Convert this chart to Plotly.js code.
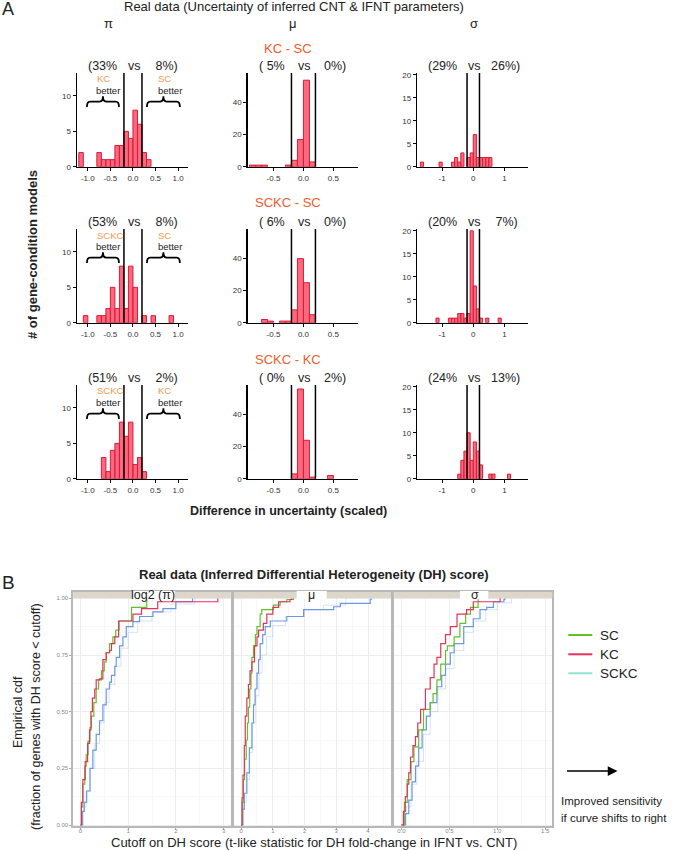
<!DOCTYPE html>
<html><head><meta charset="utf-8">
<script src="https://cdn.plot.ly/plotly-3.0.1.min.js"></script>
<style>html,body{margin:0;padding:0;background:#fff}#chart{width:678px;height:850px}</style>
</head><body><div id="chart"></div>
<script>
// ---------- Panel A data (bin centres, width 0.1, and counts) ----------
const params = ['π', 'μ', 'σ'];
const comparisons = ['KC - SC', 'SCKC - SC', 'SCKC - KC'];
const betterLeft = ['KC', 'SCKC', 'SCKC'];
const betterRight = ['SC', 'SC', 'KC'];
const pctLeft = [['33%', ' 5%', '29%'], ['53%', ' 6%', '20%'], ['51%', ' 0%', '24%']];
const pctRight = [[' 8%', '0%', '26%'], [' 8%', '0%', ' 7%'], [' 2%', '2%', '13%']];
const thresholds = [-0.2, 0.2];

const piKcSc_x = [-1.15, -0.75, -0.65, -0.55, -0.45, -0.35, -0.25, -0.15, -0.05, 0.05, 0.15, 0.25, 0.35];
const piKcSc_n = [2, 2, 1, 1, 1, 3, 3, 5, 4, 8, 6, 2, 1];
const muKcSc_x = [-0.85, -0.75, -0.65, -0.25, -0.15, -0.05, 0.05, 0.15];
const muKcSc_n = [1, 1, 1, 1, 4, 17, 54, 3];
const sgKcSc_x = [-1.65, -1.05, -0.65, -0.55, -0.45, -0.35, -0.15, -0.05, 0.05, 0.15, 0.25, 0.35, 0.45, 0.55];
const sgKcSc_n = [1, 1, 1, 2, 1, 3, 2, 3, 7, 2, 2, 2, 2, 2];

const piSckcSc_x = [-1.05, -0.75, -0.65, -0.55, -0.45, -0.35, -0.25, -0.15, -0.05, 0.05, 0.25, 0.45, 0.85];
const piSckcSc_n = [1, 1, 1, 2, 5, 2, 8, 2, 8, 5, 1, 1, 1];
const muSckcSc_x = [-0.65, -0.55, -0.35, -0.25, -0.15, -0.05, 0.05, 0.15];
const muSckcSc_n = [2, 1, 1, 1, 8, 40, 25, 5];
const sgSckcSc_x = [-1.15, -0.75, -0.65, -0.55, -0.45, -0.35, -0.25, -0.15, -0.05, 0.05, 0.15, 0.25, 0.45, 0.85];
const sgSckcSc_n = [1, 1, 1, 1, 2, 2, 1, 2, 20, 8, 3, 1, 1, 1];

const piSckcKc_x = [-0.65, -0.55, -0.45, -0.35, -0.25, -0.15, -0.05, 0.05, 0.15, 0.25];
const piSckcKc_n = [3, 1, 4, 5, 8, 6, 8, 2, 3, 1];
const muSckcKc_x = [-0.15, -0.05, 0.05, 0.15, 0.45];
const muSckcKc_n = [3, 56, 24, 1, 2];
const sgSckcKc_x = [-0.45, -0.35, -0.25, -0.15, -0.05, 0.05, 0.15, 0.25, 0.55, 0.65, 1.15];
const sgSckcKc_n = [1, 4, 6, 10, 4, 8, 6, 3, 1, 1, 1];

const piTicks = [-1, -0.5, 0, 0.5, 1], piTickText = ['-1.0', '-0.5', '0.0', '0.5', '1.0'];
const muTicks = [-0.5, 0, 0.5], muTickText = ['-0.5', '0.0', '0.5'];
const sgTicks = [-1, 0, 1], sgTickText = ['-1', '0', '1'];
const piYTicks = [0, 5, 10], muYTicks = [0, 20, 40], sgYTicks = [0, 5, 10, 15, 20];

// ---------- Panel B data (ECDF step vertices) ----------
const facetLabels = ['log2 (π)', 'μ', 'σ'];
const seriesNames = ['SC', 'KC', 'SCKC'];

const piSC_x = [0, 0.02, 0.05, 0.09, 0.12, 0.16, 0.2, 0.23, 0.28, 0.33, 0.38, 0.44, 0.5, 0.54, 0.61, 0.68, 0.74, 0.81, 1.07, 1.39];
const piSC_y = [0, 0.08, 0.18, 0.26, 0.31, 0.37, 0.43, 0.48, 0.54, 0.60, 0.64, 0.68, 0.72, 0.76, 0.80, 0.83, 0.86, 0.90, 0.96, 1.0];
const piKC_x = [0, 0.02, 0.05, 0.1, 0.15, 0.19, 0.22, 0.25, 0.3, 0.33, 0.4, 0.47, 0.54, 0.61, 0.65, 0.72, 0.8, 1.1, 1.28, 1.62, 2.88];
const piKC_y = [0, 0.1, 0.2, 0.28, 0.36, 0.42, 0.5, 0.56, 0.6, 0.64, 0.645, 0.73, 0.76, 0.77, 0.80, 0.83, 0.90, 0.93, 0.955, 0.985, 1.0];
const piSCKC_x = [0, 0.04, 0.08, 0.13, 0.2, 0.26, 0.33, 0.4, 0.47, 0.54, 0.61, 0.65, 0.72, 0.75, 0.82, 0.89, 0.96, 1.1, 1.24, 1.52, 1.73, 2.0, 2.35];
const piSCKC_y = [0, 0.06, 0.1, 0.15, 0.25, 0.33, 0.4, 0.46, 0.53, 0.6, 0.63, 0.66, 0.7, 0.74, 0.79, 0.83, 0.875, 0.897, 0.92, 0.94, 0.955, 0.985, 1.0];
const piRep_x = [0, 0.06, 0.12, 0.2, 0.3, 0.4, 0.5, 0.6, 0.72, 0.85, 1.0, 1.2, 1.5, 1.9, 2.4];
const piRep_y = [0, 0.08, 0.15, 0.25, 0.36, 0.45, 0.54, 0.62, 0.7, 0.78, 0.85, 0.9, 0.94, 0.975, 1.0];

const muSC_x = [0, 0.03, 0.07, 0.11, 0.16, 0.2, 0.23, 0.27, 0.31, 0.34, 0.39, 0.45, 0.5, 0.6, 0.65, 1.02, 1.23, 1.44, 1.65];
const muSC_y = [0, 0.1, 0.2, 0.29, 0.375, 0.45, 0.52, 0.6, 0.67, 0.74, 0.79, 0.84, 0.875, 0.93, 0.95, 0.97, 0.985, 0.995, 1.0];
const muKC_x = [0, 0.03, 0.06, 0.1, 0.13, 0.18, 0.23, 0.28, 0.34, 0.42, 0.5, 0.55, 0.7, 0.81, 1.0, 1.18, 1.54, 1.6];
const muKC_y = [0, 0.12, 0.22, 0.35, 0.48, 0.56, 0.62, 0.68, 0.72, 0.79, 0.83, 0.86, 0.89, 0.93, 0.96, 0.985, 0.995, 1.0];
const muSCKC_x = [0, 0.05, 0.1, 0.18, 0.26, 0.34, 0.39, 0.44, 0.5, 0.55, 0.6, 0.68, 0.76, 0.92, 1.44, 1.97, 2.92, 3.13, 4.07, 4.1];
const muSCKC_y = [0, 0.07, 0.14, 0.23, 0.34, 0.45, 0.53, 0.6, 0.67, 0.73, 0.8, 0.84, 0.875, 0.9, 0.92, 0.95, 0.963, 0.978, 0.995, 1.0];
const muRep_x = [0, 0.08, 0.16, 0.26, 0.36, 0.46, 0.56, 0.66, 0.8, 1.0, 1.4, 2.0, 2.6, 3.3];
const muRep_y = [0, 0.1, 0.2, 0.32, 0.45, 0.57, 0.67, 0.75, 0.83, 0.88, 0.92, 0.95, 0.97, 1.0];

const sgSC_x = [0, 0.03, 0.06, 0.1, 0.13, 0.18, 0.23, 0.3, 0.33, 0.37, 0.41, 0.46, 0.48, 0.55, 0.61, 0.67, 0.72, 0.8];
const sgSC_y = [0, 0.1, 0.2, 0.28, 0.345, 0.42, 0.51, 0.54, 0.58, 0.64, 0.71, 0.77, 0.79, 0.83, 0.89, 0.93, 0.96, 1.0];
const sgKC_x = [0, 0.02, 0.04, 0.06, 0.076, 0.094, 0.12, 0.146, 0.17, 0.2, 0.25, 0.3, 0.34, 0.37, 0.41, 0.46, 0.51, 0.58, 0.68, 0.75, 1.03];
const sgKC_y = [0, 0.06, 0.125, 0.18, 0.23, 0.30, 0.35, 0.39, 0.45, 0.51, 0.6, 0.65, 0.71, 0.74, 0.80, 0.84, 0.875, 0.93, 0.95, 0.985, 1.0];
const sgSCKC_x = [0, 0.04, 0.076, 0.11, 0.146, 0.18, 0.215, 0.26, 0.3, 0.37, 0.42, 0.46, 0.51, 0.55, 0.65, 0.75, 0.82, 0.89, 0.96, 1.07, 1.08];
const sgSCKC_y = [0, 0.05, 0.11, 0.19, 0.26, 0.34, 0.42, 0.48, 0.54, 0.61, 0.66, 0.71, 0.76, 0.8, 0.875, 0.91, 0.95, 0.96, 0.985, 0.995, 1.0];
const sgRep_x = [0, 0.05, 0.1, 0.16, 0.23, 0.3, 0.38, 0.46, 0.55, 0.65, 0.75, 0.88, 1.0, 1.15];
const sgRep_y = [0, 0.08, 0.18, 0.28, 0.4, 0.5, 0.6, 0.69, 0.77, 0.85, 0.9, 0.95, 0.98, 1.0];

// ---------- build ----------
const W = 678, H = 850;
const fx = p => p / W, fy = p => 1 - p / H;
const FONT = 'Liberation Sans, Arial, sans-serif';

const histTable = [
  [[piKcSc_x, piKcSc_n], [muKcSc_x, muKcSc_n], [sgKcSc_x, sgKcSc_n]],
  [[piSckcSc_x, piSckcSc_n], [muSckcSc_x, muSckcSc_n], [sgSckcSc_x, sgSckcSc_n]],
  [[piSckcKc_x, piSckcKc_n], [muSckcKc_x, muSckcKc_n], [sgSckcKc_x, sgSckcKc_n]]
];
const cols = [
  {l: 77, r: 188, xr: [-1.24, 1.22], yr: [0, 13.25], xt: piTicks, xtt: piTickText, yt: piYTicks, cx: 133},
  {l: 247.7, r: 358, xr: [-0.93, 0.91], yr: [0, 58.5], xt: muTicks, xtt: muTickText, yt: muYTicks, cx: 303},
  {l: 417.3, r: 528.3, xr: [-1.8, 1.77], yr: [0, 20.4], xt: sgTicks, xtt: sgTickText, yt: sgYTicks, cx: 473}
];
const rowsPx = [[73, 166.7], [229, 322.7], [385, 478.7]];
const rowTextY = [66, 222, 378];

const data = [], shapes = [], annotations = [];
const layout = {
  width: W, height: H, margin: {l: 0, r: 0, t: 0, b: 0},
  paper_bgcolor: '#fff', plot_bgcolor: '#fff', showlegend: false,
  font: {family: FONT, color: '#222'}
};
const ann = (text, x, y, size, extra) => annotations.push(Object.assign({
  text, x: fx(x), y: fy(y), xref: 'paper', yref: 'paper', showarrow: false,
  xanchor: 'center', yanchor: 'middle', font: {size, family: FONT, color: '#222'}
}, extra || {}));

for (let r = 0; r < 3; r++) {
  for (let c = 0; c < 3; c++) {
    const idx = r * 3 + c + 1, sfx = idx === 1 ? '' : String(idx);
    const col = cols[c], [top, bot] = rowsPx[r];
    const [hx, hn] = histTable[r][c];
    data.push({
      type: 'bar', x: hx, y: hn, width: 0.1, xaxis: 'x' + sfx, yaxis: 'y' + sfx,
      marker: {color: 'rgba(250,72,98,0.82)', line: {color: '#dc1a38', width: 1}},
      hoverinfo: 'skip'
    });
    layout['xaxis' + sfx] = {
      domain: [fx(col.l), fx(col.r)], range: col.xr, anchor: 'y' + sfx,
      showline: true, linecolor: '#000', linewidth: 1.5, ticks: 'outside', ticklen: 3,
      tickcolor: '#000', tickwidth: 1, tickmode: 'array', tickvals: col.xt, ticktext: col.xtt,
      tickfont: {size: 8, color: '#333', family: FONT}, showgrid: false, zeroline: false, fixedrange: true
    };
    layout['yaxis' + sfx] = {
      domain: [fy(bot), fy(top)], range: col.yr, anchor: 'x' + sfx,
      showline: true, linecolor: '#000', linewidth: 1.5, ticks: 'outside', ticklen: 3,
      tickcolor: '#000', tickwidth: 1, tickmode: 'array', tickvals: col.yt,
      tickfont: {size: 8, color: '#333', family: FONT}, showgrid: false, zeroline: false, fixedrange: true
    };
    thresholds.forEach(t => shapes.push({
      type: 'line', xref: 'x' + sfx, yref: 'y' + sfx + ' domain', x0: t, x1: t, y0: 0, y1: 1,
      line: {color: '#000', width: 1.5}
    }));
    const ty = rowTextY[r];
    ann('(' + pctLeft[r][c], col.cx - 31, ty, 12.5);
    ann('vs', col.cx + 1, ty, 12.5);
    ann(pctRight[r][c] + ')', col.cx + 32, ty, 12.5);
  }
  const sfx = r === 0 ? '' : String(r * 3 + 1);
  const braceY = 9.2, h = 0.75, e = 0.07;
  [[-1.02, -0.31], [0.31, 1.04]].forEach(([a, b]) => {
    const m = (a + b) / 2;
    shapes.push({
      type: 'path', xref: 'x' + sfx, yref: 'y' + sfx,
      path: `M${a},${braceY - h} Q${a},${braceY} ${a + e},${braceY} L${m - e},${braceY} Q${m},${braceY} ${m},${braceY + h} Q${m},${braceY} ${m + e},${braceY} L${b - e},${braceY} Q${b},${braceY} ${b},${braceY - h}`,
      line: {color: '#000', width: 1.8}
    });
  });
  const ty = rowTextY[r];
  ann(betterLeft[r], 94.5, ty + 13, 9.5, {xanchor: 'left', font: {size: 9.5, family: FONT, color: '#f39a50'}});
  ann('better', 93.5, ty + 24.5, 9.5, {xanchor: 'left'});
  ann(betterRight[r], 156, ty + 13, 9.5, {xanchor: 'left', font: {size: 9.5, family: FONT, color: '#f39a50'}});
  ann('better', 156, ty + 24.5, 9.5, {xanchor: 'left'});
  ann(comparisons[r], 288, [48, 203, 359][r], 13, {font: {size: 13, family: FONT, color: '#ef5b2b'}});
}
params.forEach((p, i) => ann(p, [108, 293, 474][i], 24, 13));
ann('A', 8, 9, 18);
ann('Real data (Uncertainty of inferred CNT &amp; IFNT parameters)', 294, 7, 13);
ann('<b># of gene-condition models</b>', 32, 255, 13, {textangle: -90});
ann('<b>Difference in uncertainty (scaled)</b>', 288, 511, 12.5);

// ---------- Panel B ----------
const ecdfTable = [
  [[piSC_x, piSC_y], [piKC_x, piKC_y], [piSCKC_x, piSCKC_y], [piRep_x, piRep_y]],
  [[muSC_x, muSC_y], [muKC_x, muKC_y], [muSCKC_x, muSCKC_y], [muRep_x, muRep_y]],
  [[sgSC_x, sgSC_y], [sgKC_x, sgKC_y], [sgSCKC_x, sgSCKC_y], [sgRep_x, sgRep_y]]
];
const lineColors = ['#62c02a', '#e5325a', '#6a98e2', 'rgba(140,175,235,0.35)'];
const legendColors = ['#62c02a', '#e5325a', '#8fe3d2'];
const bPanels = [
  {l: 73.3, r: 230.7, xr: [-0.15, 3.15], dtick: 1, fmt: 'd', minor: 0.5, labelC: 153.3, gap: [131.7, 175]},
  {l: 234, r: 391, xr: [-0.225, 4.725], dtick: 1, fmt: 'd', minor: 0.5, labelC: 311.7, gap: [296.7, 326.7]},
  {l: 394.3, r: 552.3, xr: [-0.075, 1.575], dtick: 0.5, fmt: '.1f', minor: 0.25, labelC: 474.5, gap: [460, 488.3]}
];
const bTop = 592, bBot = 826;
bPanels.forEach((p, i) => {
  const sfx = String(10 + i);
  [3, 2, 0, 1].forEach(k => {
    const [xs, ys] = ecdfTable[i][k];
    data.push({
      type: 'scatter', mode: 'lines', x: xs, y: ys, xaxis: 'x' + sfx, yaxis: 'y' + sfx,
      line: {color: lineColors[k], width: k === 3 ? 1 : 1.2, shape: 'hv'}, hoverinfo: 'skip',
      name: k < 3 ? seriesNames[k] : 'SCKC (other)'
    });
  });
  layout['xaxis' + sfx] = {
    domain: [fx(p.l), fx(p.r)], range: p.xr, anchor: 'y' + sfx, tick0: 0, dtick: p.dtick,
    tickformat: p.fmt, showline: true, mirror: true, linecolor: '#b8b8b8', linewidth: 2,
    ticks: 'outside', ticklen: 2, tickcolor: '#aaa', tickfont: {size: 6, color: '#888', family: FONT},
    ticklabelstandoff: -4,
    showgrid: true, gridcolor: '#ededf0', gridwidth: 1, zeroline: false, fixedrange: true,
    minor: {dtick: p.minor, showgrid: true, gridcolor: '#f7f7f9'}
  };
  layout['yaxis' + sfx] = {
    domain: [fy(bBot), fy(bTop)], range: [-0.0044, 1.028], anchor: 'x' + sfx, tick0: 0, dtick: 0.25,
    tickformat: '.2f', showline: true, mirror: true, linecolor: '#b8b8b8', linewidth: 2,
    ticks: i === 0 ? 'outside' : '', ticklen: 2, tickcolor: '#aaa', showticklabels: i === 0,
    tickfont: {size: 6, color: '#888', family: FONT},
    showgrid: true, gridcolor: '#ededf0', zeroline: false, fixedrange: true,
    minor: {dtick: 0.125, showgrid: true, gridcolor: '#f7f7f9'}
  };
  shapes.push({type: 'rect', xref: 'paper', yref: 'paper', x0: fx(p.l), x1: fx(p.r), y0: fy(598.3), y1: fy(bTop),
    fillcolor: '#ddd6ca', line: {width: 0}});
  shapes.push({type: 'rect', xref: 'paper', yref: 'paper', x0: fx(p.gap[0]), x1: fx(p.gap[1]), y0: fy(599), y1: fy(bTop - 1),
    fillcolor: '#ffffff', line: {width: 0}});
  ann(facetLabels[i], p.labelC, 594.5, 12.5);
});
ann('B', 8, 582, 19);
ann('<b>Real data (Inferred Differential Heterogeneity (DH) score)</b>', 314, 574, 13);
ann('Cutoff on DH score (t-like statistic for DH fold-change in IFNT vs. CNT)', 314, 842.5, 13);
ann('Empirical cdf', 18, 712, 12.5, {textangle: -90});
ann('(fraction of genes with DH score &lt; cutoff)', 36, 717, 12.5, {textangle: -90});
seriesNames.forEach((s, i) => {
  const y = [635, 654.3, 673.3][i];
  shapes.push({type: 'line', xref: 'paper', yref: 'paper', x0: fx(568.3), x1: fx(592.3), y0: fy(y), y1: fy(y),
    line: {color: legendColors[i], width: 2}});
  ann(s, 598.3, y, 13.5, {xanchor: 'left'});
});
annotations.push({x: fx(617.5), y: fy(771), xref: 'paper', yref: 'paper', ax: -52, ay: 0,
  axref: 'pixel', ayref: 'pixel', showarrow: true, arrowhead: 2, arrowsize: 1.3, arrowwidth: 1.5,
  arrowcolor: '#000', text: ''});
ann('Improved sensitivity', 559.3, 801, 11.5, {xanchor: 'left'});
ann('if curve shifts to right', 559.3, 818, 11.5, {xanchor: 'left'});

layout.shapes = shapes;
layout.annotations = annotations;
Plotly.newPlot('chart', data, layout, {staticPlot: true, displayModeBar: false});
</script></body></html>
